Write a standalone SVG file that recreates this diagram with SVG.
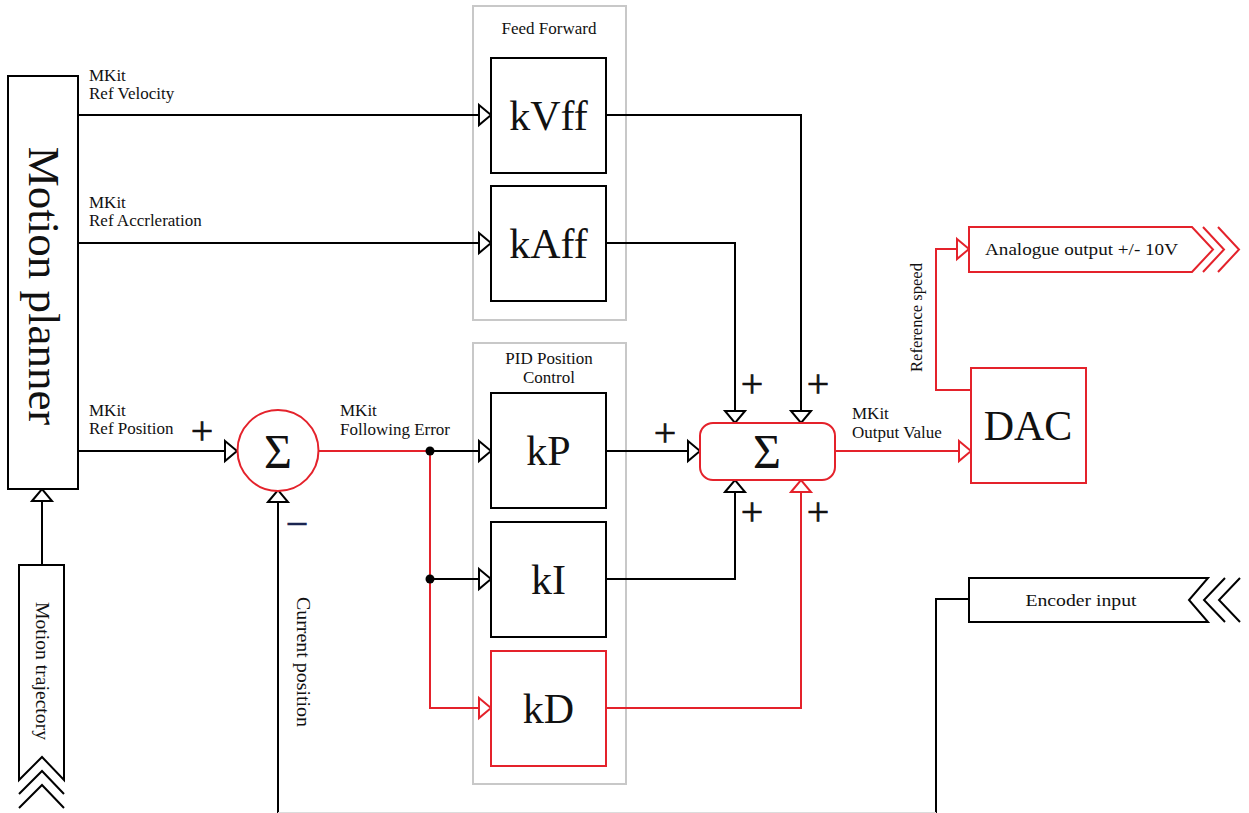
<svg xmlns="http://www.w3.org/2000/svg" width="1249" height="813" viewBox="0 0 1249 813">
<style>
.t{font-family:"Liberation Serif","Times New Roman",serif;fill:#111}
.s{font-size:17px}
.big{font-size:42px;text-anchor:middle}
.box{fill:#fff;stroke:#000;stroke-width:2}
.rbox{fill:#fff;stroke:#e4222b;stroke-width:2}
.grp{fill:none;stroke:#c8c8c8;stroke-width:2}
.ln{fill:none;stroke:#000;stroke-width:2}
.rl{fill:none;stroke:#e4222b;stroke-width:2}
.pm{font-size:40px;text-anchor:middle;stroke:#111;stroke-width:0.6}
</style>
<defs>
<marker id="a" markerUnits="userSpaceOnUse" markerWidth="16" markerHeight="24" refX="13" refY="11" orient="auto" overflow="visible">
<path d="M1,1 L13,11 L1,21 Z" fill="#fff" stroke="#000" stroke-width="2"/>
</marker>
<marker id="ar" markerUnits="userSpaceOnUse" markerWidth="16" markerHeight="24" refX="13" refY="11" orient="auto" overflow="visible">
<path d="M1,1 L13,11 L1,21 Z" fill="#fff" stroke="#e4222b" stroke-width="2"/>
</marker>
</defs>
<rect width="1249" height="813" fill="#fff"/>

<g id="groups">
<rect class="grp" x="473" y="6" width="153" height="314"/>
<text class="t s" x="549" y="34" text-anchor="middle">Feed Forward</text>
<rect class="grp" x="473" y="343" width="153" height="441"/>
<text class="t s" x="549" y="364" text-anchor="middle">PID Position</text>
<text class="t s" x="549" y="383" text-anchor="middle">Control</text>
</g>

<g id="connectors">
<path class="ln" d="M78,115 H491" marker-end="url(#a)"/>
<path class="ln" d="M78,243 H491" marker-end="url(#a)"/>
<path class="ln" d="M78,451 H237" marker-end="url(#a)"/>
<path class="rl" d="M318,451 H430"/>
<path class="rl" d="M430,451 V708 H491" marker-end="url(#ar)"/>
<path class="ln" d="M430,451 H491" marker-end="url(#a)"/>
<path class="ln" d="M430,579 H491" marker-end="url(#a)"/>
<circle cx="430" cy="451" r="4.5" fill="#000"/>
<circle cx="430" cy="579" r="4.5" fill="#000"/>
<path class="ln" d="M606,115 H801 V423" marker-end="url(#a)"/>
<path class="ln" d="M606,243 H735 V423" marker-end="url(#a)"/>
<path class="ln" d="M606,451 H700" marker-end="url(#a)"/>
<path class="ln" d="M606,579 H735 V480" marker-end="url(#a)"/>
<path class="rl" d="M606,708 H801 V480" marker-end="url(#ar)"/>
<path class="rl" d="M835,451 H971" marker-end="url(#ar)"/>
<path class="rl" d="M971,390 H936 V249 H969" marker-end="url(#ar)"/>
<path class="ln" d="M969,599 H936 V813"/>
<path class="ln" d="M278,813 V490" marker-end="url(#a)"/>
<path class="ln" d="M42,565 V489" marker-end="url(#a)"/>
<path d="M278,812.5 H936" stroke="#dcdcdc" stroke-width="1" fill="none"/>
</g>

<g id="labels">
<text class="t s" x="89" y="81">MKit</text>
<text class="t s" x="89" y="99">Ref Velocity</text>
<text class="t s" x="89" y="208">MKit</text>
<text class="t s" x="89" y="226">Ref Accrleration</text>
<text class="t s" x="89" y="416">MKit</text>
<text class="t s" x="89" y="434">Ref Position</text>
<text class="t s" x="340" y="416">MKit</text>
<text class="t s" x="340" y="435">Following Error</text>
<text class="t s" x="852" y="419">MKit</text>
<text class="t s" x="852" y="438">Output Value</text>
<text class="t" font-size="17" transform="translate(922,317.5) rotate(-90)" text-anchor="middle" textLength="109" lengthAdjust="spacingAndGlyphs">Reference speed</text>
<text class="t" font-size="18" transform="translate(297,662) rotate(90)" text-anchor="middle" textLength="130" lengthAdjust="spacingAndGlyphs">Current position</text>
<text class="t pm" x="202" y="444">+</text>
<text class="t pm" x="665" y="446">+</text>
<text class="t pm" x="752" y="397">+</text>
<text class="t pm" x="818" y="397">+</text>
<text class="t pm" x="752" y="525">+</text>
<text class="t pm" x="818" y="525">+</text>
<text class="t pm" x="297" y="537" style="fill:#1a2550;stroke:#1a2550">−</text>
</g>

<g id="motion-planner">
<rect class="box" x="8" y="76" width="70" height="413"/>
<text class="t" font-size="45" text-anchor="middle" transform="translate(29,286) rotate(90)">Motion planner</text>
</g>

<g id="motion-trajectory">
<path class="box" d="M19,565 H64 V780 L42,757 L19,780 Z"/>
<path class="ln" d="M19,794 L42,771 L64,794"/>
<path class="ln" d="M19,808 L42,785 L64,808"/>
<text class="t" font-size="18" text-anchor="middle" transform="translate(36,671) rotate(90)" textLength="138" lengthAdjust="spacingAndGlyphs">Motion trajectory</text>
</g>

<g id="kVff"><rect class="box" x="491" y="58" width="115" height="115"/><text class="t big" x="548.5" y="130">kVff</text></g>
<g id="kAff"><rect class="box" x="491" y="186" width="115" height="115"/><text class="t big" x="548.5" y="258">kAff</text></g>
<g id="kP"><rect class="box" x="491" y="393" width="115" height="115"/><text class="t big" x="548.5" y="465">kP</text></g>
<g id="kI"><rect class="box" x="491" y="522" width="115" height="115"/><text class="t big" x="548.5" y="594">kI</text></g>
<g id="kD"><rect class="rbox" x="491" y="651" width="115" height="115"/><text class="t big" x="548.5" y="723">kD</text></g>

<g id="sum1">
<circle class="rbox" cx="278" cy="450.5" r="40.5"/>
<text class="t" font-size="48" text-anchor="middle" x="278" y="468">Σ</text>
</g>

<g id="sum2">
<rect class="rbox" x="700" y="423" width="135" height="57" rx="13"/>
<text class="t" font-size="48" text-anchor="middle" x="767" y="468">Σ</text>
</g>

<g id="dac">
<rect class="rbox" x="971" y="368" width="115" height="115"/>
<text class="t" font-size="42" text-anchor="middle" x="1028" y="440">DAC</text>
</g>

<g id="analogue-output">
<path class="rbox" d="M969,227 H1192 L1213,249.5 L1192,272 H969 Z"/>
<path class="rl" d="M1203,227 L1224,249.5 L1203,272"/>
<path class="rl" d="M1218,227 L1239,249.5 L1218,272"/>
<text class="t" font-size="17" x="985" y="255" textLength="193" lengthAdjust="spacingAndGlyphs">Analogue output +/- 10V</text>
</g>

<g id="encoder-input">
<path class="box" d="M969,578 H1208 L1189,600 L1208,622 H969 Z"/>
<path class="ln" d="M1225,578 L1204,600 L1225,622"/>
<path class="ln" d="M1240,578 L1219,600 L1240,622"/>
<text class="t" font-size="17" x="1081" y="606" text-anchor="middle" textLength="111" lengthAdjust="spacingAndGlyphs">Encoder input</text>
</g>
</svg>
